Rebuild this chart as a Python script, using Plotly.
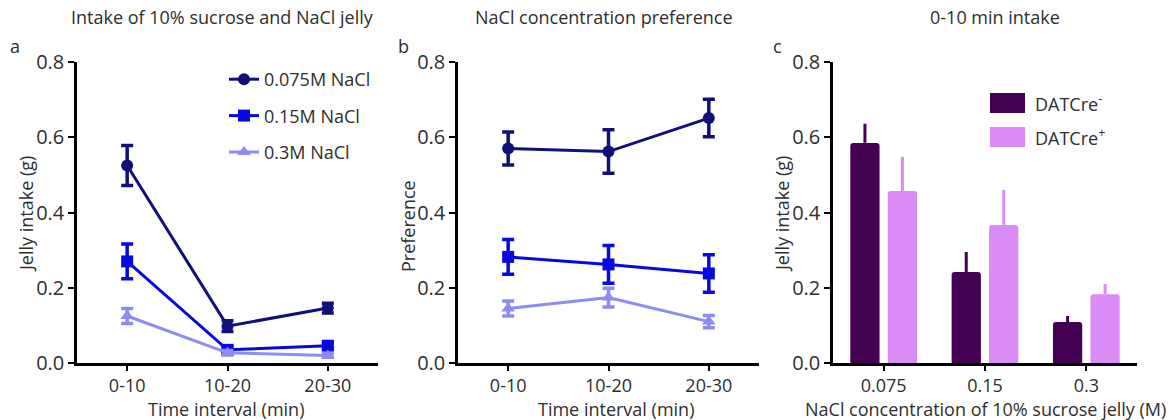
import plotly.graph_objects as go

W, H = 1174, 420

intervals = ["0-10", "10-20", "20-30"]
series_names = ["0.075M NaCl", "0.15M NaCl", "0.3M NaCl"]

intake_mean = [[0.525, 0.098, 0.146], [0.27, 0.035, 0.046], [0.125, 0.027, 0.02]]
intake_err = [[0.053, 0.014, 0.013], [0.046, 0.008, 0.008], [0.02, 0.006, 0.005]]

pref_mean = [[0.57, 0.562, 0.651], [0.282, 0.262, 0.238], [0.145, 0.174, 0.11]]
pref_err = [[0.044, 0.058, 0.05], [0.046, 0.05, 0.05], [0.02, 0.025, 0.016]]

conc = ["0.075", "0.15", "0.3"]
groups = ["DATCre<sup>-</sup>", "DATCre<sup>+</sup>"]
bar_mean = [[0.585, 0.242, 0.109], [0.457, 0.367, 0.183]]
bar_err = [[0.051, 0.053, 0.016], [0.091, 0.093, 0.027]]

line_colors = ["#10107a", "#0808e0", "#8c8cf4"]
symbols = ["circle", "square", "triangle-up"]
bar_colors = ["#440052", "#da8bf5"]

TXT = "#2e2e2e"
FONT = "Open Sans"

fig = go.Figure()

for i in range(3):
    fig.add_trace(go.Scatter(
        x=intervals, y=intake_mean[i], name=series_names[i],
        mode="lines+markers",
        line=dict(color=line_colors[i], width=3),
        marker=dict(symbol=symbols[i], size=12, color=line_colors[i]),
        error_y=dict(type="data", array=intake_err[i], color=line_colors[i], thickness=3.5, width=6),
        legendgroup=f"g{i}", legend="legend",
        xaxis="x", yaxis="y"))
for i in range(3):
    fig.add_trace(go.Scatter(
        x=intervals, y=pref_mean[i], name=series_names[i],
        mode="lines+markers", showlegend=False,
        line=dict(color=line_colors[i], width=3),
        marker=dict(symbol=symbols[i], size=12, color=line_colors[i]),
        error_y=dict(type="data", array=pref_err[i], color=line_colors[i], thickness=3.5, width=6),
        xaxis="x2", yaxis="y2"))
for j in range(2):
    fig.add_trace(go.Bar(
        x=conc, y=bar_mean[j], name=groups[j], showlegend=False,
        marker=dict(color=bar_colors[j], cornerradius=3, line=dict(width=0)),
        error_y=dict(type="data", array=bar_err[j], arrayminus=[0, 0, 0], color=bar_colors[j], thickness=3, width=0),
        xaxis="x3", yaxis="y3"))

ydom = [(H - 363) / H, (H - 62) / H]
xdoms = [[77 / W, 378 / W], [458 / W, 759 / W], [833 / W, 1137 / W]]

def xax(dom, anchor):
    return dict(domain=dom, anchor=anchor, type="category", range=[-0.5, 2.5], automargin=False,
                showline=True, linecolor="black", linewidth=2.5, ticks="outside",
                ticklen=5, tickwidth=2, tickcolor="black", showgrid=False, zeroline=False,
                tickfont=dict(size=18, color=TXT, family=FONT))

def yax(anchor):
    return dict(domain=ydom, anchor=anchor, range=[0, 0.8], tickvals=[0, 0.2, 0.4, 0.6, 0.8],
                ticktext=["0.0", "0.2", "0.4", "0.6", "0.8"], automargin=False,
                showline=True, linecolor="black", linewidth=2.5, ticks="outside",
                ticklen=6, tickwidth=2, tickcolor="black", showgrid=False, zeroline=False,
                tickfont=dict(size=20, color=TXT, family=FONT))

fig.update_layout(
    width=W, height=H, margin=dict(l=0, r=0, t=0, b=0),
    paper_bgcolor="white", plot_bgcolor="white",
    font=dict(family=FONT, color=TXT),
    barmode="group", bargap=0.26, bargroupgap=0.22,
    xaxis=xax(xdoms[0], "y"), yaxis=yax("x"),
    xaxis2=xax(xdoms[1], "y2"), yaxis2=yax("x2"),
    xaxis3=xax(xdoms[2], "y3"), yaxis3=yax("x3"),
    legend=dict(x=224 / W, y=1 - 61 / H, xanchor="left", yanchor="top",
                font=dict(size=18, color=TXT, family=FONT), traceorder="grouped",
                tracegroupgap=10, bgcolor="rgba(0,0,0,0)", itemwidth=30),
    showlegend=True,
)

def ann(text, x, y, size=18, angle=0, xanchor="center"):
    fig.add_annotation(text=text, x=x / W, y=1 - y / H, xref="paper", yref="paper",
                       showarrow=False, xanchor=xanchor, yanchor="middle", textangle=angle,
                       borderpad=0, font=dict(size=size, color=TXT, family=FONT))

# titles and panel letters
for t, xc in [("Intake of 10% sucrose and NaCl jelly", 222), ("NaCl concentration preference", 604), ("0-10 min intake", 995)]:
    ann(t, xc, 17)
for t, xc in [("a", 15), ("b", 403), ("c", 777)]:
    ann(t, xc, 46)

# axis titles
for t, xc in [("Time interval (min)", 226), ("Time interval (min)", 616), ("NaCl concentration of 10% sucrose jelly (M)", 985)]:
    ann(t, xc, 409)
for t, xc, yc in [("Jelly intake (g)", 26, 214), ("Preference", 408, 226), ("Jelly intake (g)", 782, 214)]:
    ann(t, xc, yc, angle=-90)

# custom legend for panel c
for j, yc in enumerate([103, 137]):
    fig.add_shape(type="rect", xref="paper", yref="paper",
                  x0=990 / W, x1=1025 / W, y0=1 - (yc - 10) / H, y1=1 - (yc + 10) / H,
                  fillcolor=bar_colors[j], line=dict(width=0))
    ann(groups[j], 1034, yc, xanchor="left")

fig.write_html("out.html")
